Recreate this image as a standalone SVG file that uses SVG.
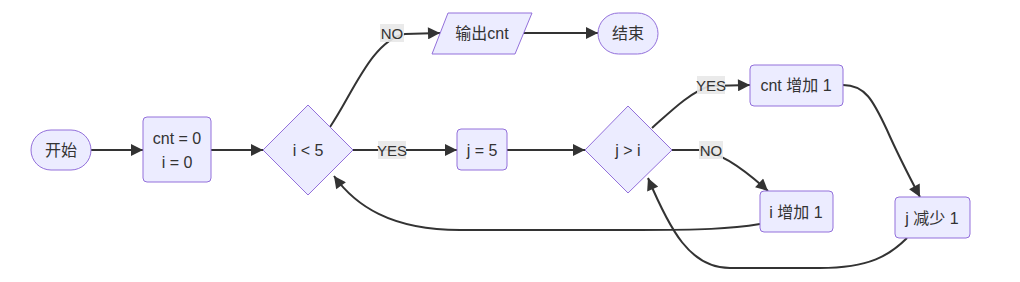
<svg xmlns="http://www.w3.org/2000/svg" width="1020" height="282" viewBox="0 0 1020 282">
<defs>
<style>
.node{fill:#ECECFF;stroke:#9370DB;stroke-width:1}
.t{font-family:"Liberation Sans","Noto Sans CJK SC",sans-serif;font-size:16px;fill:#333;text-anchor:middle;dominant-baseline:central}
.e{fill:none;stroke:#333;stroke-width:2}
.lb{fill:#e8e8e8;opacity:0.9}
.lt{font-family:"Liberation Sans","Noto Sans CJK SC",sans-serif;font-size:15px;fill:#333;text-anchor:middle;dominant-baseline:central}
</style>
<marker id="arr" viewBox="0 0 10 10" refX="10" refY="5" markerWidth="13" markerHeight="12" markerUnits="userSpaceOnUse" orient="auto">
<path d="M0,0 L10,5 L0,10 z" fill="#333"/>
</marker>
</defs>
<rect width="1020" height="282" fill="#fff"/>
<g id="edges">
<path class="e" d="M91,150 L143,150" marker-end="url(#arr)"/>
<path class="e" d="M211,150 L263,150" marker-end="url(#arr)"/>
<path class="e" d="M330,127 C352,95 372,40 405,34 L440,33" marker-end="url(#arr)"/>
<path class="e" d="M524,33 L598,33" marker-end="url(#arr)"/>
<path class="e" d="M353,150 L457,150" marker-end="url(#arr)"/>
<path class="e" d="M507,150 L585,150" marker-end="url(#arr)"/>
<path class="e" d="M652,128 C670,112 690,92 710,86 L750,85" marker-end="url(#arr)"/>
<path class="e" d="M672,150 L700,150 C720,152 745,170 768,191" marker-end="url(#arr)"/>
<path class="e" d="M843,85 C865,85 873,100 887,130 C898,155 910,178 920,197" marker-end="url(#arr)"/>
<path class="e" d="M907,238 C890,255 870,268 820,268 L730,268 C690,268 670,230 648,178" marker-end="url(#arr)"/>
<path class="e" d="M760,224 C730,229 700,230 640,230 L460,230 C390,230 355,205 334,176" marker-end="url(#arr)"/>
<rect class="lb" x="380" y="24" width="24" height="18"/>
<text class="lt" x="392" y="33">NO</text>
<rect class="lb" x="378" y="141" width="28" height="18"/>
<text class="lt" x="392" y="150">YES</text>
<rect class="lb" x="697" y="76" width="28" height="18"/>
<text class="lt" x="711" y="85">YES</text>
<rect class="lb" x="699" y="141" width="24" height="18"/>
<text class="lt" x="711" y="150">NO</text>
</g>
<g id="start"><rect class="node" x="31" y="130" width="60" height="40" rx="20"/><text class="t" x="61" y="150">开始</text></g>
<g id="init"><rect class="node" x="143" y="117" width="68" height="65" rx="4"/><text class="t" x="177" y="138">cnt = 0</text><text class="t" x="177" y="162">i = 0</text></g>
<g id="cond_i"><polygon class="node" points="308,105 353,150 308,195 263,150"/><text class="t" x="308" y="150">i &lt; 5</text></g>
<g id="output"><polygon class="node" points="448,13 532,13 515,54 432,54"/><text class="t" x="482" y="33">输出cnt</text></g>
<g id="end"><rect class="node" x="598" y="13" width="60" height="41" rx="20.5"/><text class="t" x="628" y="33">结束</text></g>
<g id="j5"><rect class="node" x="457" y="129" width="50" height="41" rx="4"/><text class="t" x="482" y="150">j = 5</text></g>
<g id="cond_j"><polygon class="node" points="628,106 672,150 628,193 585,150"/><text class="t" x="628" y="150">j &gt; i</text></g>
<g id="cntinc"><rect class="node" x="750" y="65" width="93" height="41" rx="4"/><text class="t" x="796" y="85">cnt 增加 1</text></g>
<g id="iinc"><rect class="node" x="760" y="191" width="73" height="41" rx="4"/><text class="t" x="796" y="212">i 增加 1</text></g>
<g id="jdec"><rect class="node" x="895" y="197" width="75" height="41" rx="4"/><text class="t" x="932" y="218">j 减少 1</text></g>
</svg>
